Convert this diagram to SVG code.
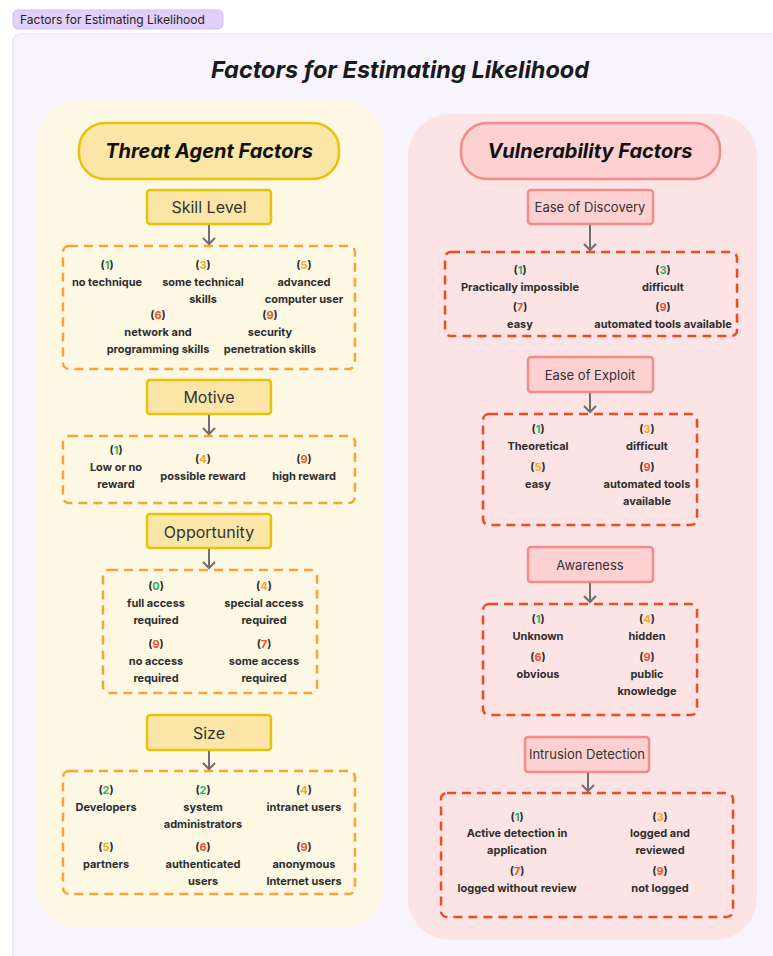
<svg xmlns="http://www.w3.org/2000/svg" width="773" height="956" viewBox="0 0 773 956">
<style>
text{font-family:Inter,"Noto Sans","Liberation Sans",sans-serif;}
.tag{font-size:12px;fill:#222;}
.title{font-size:23.5px;font-weight:700;font-style:italic;fill:#1a1a1a;}
.ph{font-size:20px;font-weight:700;font-style:italic;fill:#111;}
.yl{fill:#fbe6a8;stroke:#e6c20a;stroke-width:2.5;}
.rd{fill:#fdd1d1;stroke:#f48b8b;stroke-width:2.5;}
.lab{font-size:16px;fill:#333;}
.labs{font-size:13px;fill:#333;}
.it{font-size:11px;font-weight:700;fill:#2e2e2e;text-anchor:middle;dominant-baseline:central;}
.dy{fill:none;stroke:#f9a23a;stroke-width:2.5;stroke-dasharray:9 6;}
.dr{fill:none;stroke:#ee4b22;stroke-width:2.5;stroke-dasharray:9 6;}
.g{fill:#2db55d;}.o{fill:#f6a723;}.r{fill:#f0512a;}
.arr{fill:none;stroke:#6f6f6f;stroke-width:2;}
</style>
<rect width="773" height="956" fill="#ffffff"/>
<rect x="13" y="10" width="210" height="19" rx="5" fill="#e2cffa" stroke="#d4bdf3" stroke-width="1"/>
<text class="tag" x="20" y="24">Factors for Estimating Likelihood</text>
<rect x="13" y="34" width="780" height="940" rx="8" fill="#f8f4fe" stroke="#ece4f8" stroke-width="1.5"/>
<text class="title" x="400" y="78" text-anchor="middle">Factors for Estimating Likelihood</text>

<g id="threat-panel">
<rect x="36" y="100" width="348" height="828" rx="42" fill="#fdf8e4"/>
<rect x="79" y="123" width="260" height="56" rx="26" class="yl" stroke-width="3"/>
<text class="ph" x="209" y="158" text-anchor="middle">Threat Agent Factors</text>
</g>

<g id="vuln-panel">
<rect x="408" y="114" width="349" height="826" rx="42" fill="#fde4e4"/>
<rect x="461" y="123" width="259" height="56" rx="26" class="rd" stroke-width="3"/>
<text class="ph" x="590" y="158" text-anchor="middle">Vulnerability Factors</text>
</g>

<g id="skill-level">
<rect x="147" y="190" width="124" height="34" rx="3" class="yl"/>
<text class="lab" x="209" y="213" text-anchor="middle">Skill Level</text>
</g>
<g id="skill-options">
<rect x="63" y="246" width="292" height="123" rx="6" class="dy"/>
<text class="it" x="107" y="265">(<tspan class="g">1</tspan>)</text>
<text class="it" x="107" y="282">no technique</text>
<text class="it" x="203" y="265">(<tspan class="o">3</tspan>)</text>
<text class="it" x="203" y="282">some technical</text>
<text class="it" x="203" y="299">skills</text>
<text class="it" x="304" y="265">(<tspan class="o">5</tspan>)</text>
<text class="it" x="304" y="282">advanced</text>
<text class="it" x="304" y="299">computer user</text>
<text class="it" x="158" y="315">(<tspan class="r">6</tspan>)</text>
<text class="it" x="158" y="332">network and</text>
<text class="it" x="158" y="349">programming skills</text>
<text class="it" x="270" y="315">(<tspan class="r">9</tspan>)</text>
<text class="it" x="270" y="332">security</text>
<text class="it" x="270" y="349">penetration skills</text>
</g>

<g id="motive">
<rect x="147" y="380" width="124" height="34" rx="3" class="yl"/>
<text class="lab" x="209" y="403" text-anchor="middle">Motive</text>
</g>
<g id="motive-options">
<rect x="63" y="436" width="292" height="67" rx="6" class="dy"/>
<text class="it" x="116" y="450">(<tspan class="g">1</tspan>)</text>
<text class="it" x="116" y="467">Low or no</text>
<text class="it" x="116" y="484">reward</text>
<text class="it" x="203" y="459">(<tspan class="o">4</tspan>)</text>
<text class="it" x="203" y="476">possible reward</text>
<text class="it" x="304" y="459">(<tspan class="r">9</tspan>)</text>
<text class="it" x="304" y="476">high reward</text>
</g>

<g id="opportunity">
<rect x="147" y="514" width="124" height="34" rx="3" class="yl"/>
<text class="lab" x="209" y="538" text-anchor="middle">Opportunity</text>
</g>
<g id="opportunity-options">
<rect x="103" y="570" width="214" height="123" rx="6" class="dy"/>
<text class="it" x="156" y="586">(<tspan class="g">0</tspan>)</text>
<text class="it" x="156" y="603">full access</text>
<text class="it" x="156" y="620">required</text>
<text class="it" x="264" y="586">(<tspan class="o">4</tspan>)</text>
<text class="it" x="264" y="603">special access</text>
<text class="it" x="264" y="620">required</text>
<text class="it" x="156" y="644">(<tspan class="r">9</tspan>)</text>
<text class="it" x="156" y="661">no access</text>
<text class="it" x="156" y="678">required</text>
<text class="it" x="264" y="644">(<tspan class="r">7</tspan>)</text>
<text class="it" x="264" y="661">some access</text>
<text class="it" x="264" y="678">required</text>
</g>

<g id="size">
<rect x="147" y="715" width="124" height="35" rx="3" class="yl"/>
<text class="lab" x="209" y="739" text-anchor="middle">Size</text>
</g>
<g id="size-options">
<rect x="63" y="771" width="292" height="123" rx="6" class="dy"/>
<text class="it" x="106" y="790">(<tspan class="g">2</tspan>)</text>
<text class="it" x="106" y="807">Developers</text>
<text class="it" x="203" y="790">(<tspan class="g">2</tspan>)</text>
<text class="it" x="203" y="807">system</text>
<text class="it" x="203" y="824">administrators</text>
<text class="it" x="304" y="790">(<tspan class="o">4</tspan>)</text>
<text class="it" x="304" y="807">intranet users</text>
<text class="it" x="106" y="847">(<tspan class="o">5</tspan>)</text>
<text class="it" x="106" y="864">partners</text>
<text class="it" x="203" y="847">(<tspan class="r">6</tspan>)</text>
<text class="it" x="203" y="864">authenticated</text>
<text class="it" x="203" y="881">users</text>
<text class="it" x="304" y="847">(<tspan class="r">9</tspan>)</text>
<text class="it" x="304" y="864">anonymous</text>
<text class="it" x="304" y="881">Internet users</text>
</g>

<g id="ease-of-discovery">
<rect x="528" y="190" width="125" height="34" rx="3" class="rd"/>
<text class="labs" x="590" y="212" text-anchor="middle">Ease of Discovery</text>
</g>
<g id="discovery-options">
<rect x="445" y="252" width="292" height="84" rx="6" class="dr"/>
<text class="it" x="520" y="270">(<tspan class="g">1</tspan>)</text>
<text class="it" x="520" y="287">Practically impossible</text>
<text class="it" x="663" y="270">(<tspan class="g">3</tspan>)</text>
<text class="it" x="663" y="287">difficult</text>
<text class="it" x="520" y="307">(<tspan class="r">7</tspan>)</text>
<text class="it" x="520" y="324">easy</text>
<text class="it" x="663" y="307">(<tspan class="r">9</tspan>)</text>
<text class="it" x="663" y="324">automated tools available</text>
</g>

<g id="ease-of-exploit">
<rect x="528" y="357" width="125" height="35" rx="3" class="rd"/>
<text class="labs" x="590" y="380" text-anchor="middle" font-size="14">Ease of Exploit</text>
</g>
<g id="exploit-options">
<rect x="483" y="414" width="214" height="111" rx="6" class="dr"/>
<text class="it" x="538" y="429">(<tspan class="g">1</tspan>)</text>
<text class="it" x="538" y="446">Theoretical</text>
<text class="it" x="647" y="429">(<tspan class="o">3</tspan>)</text>
<text class="it" x="647" y="446">difficult</text>
<text class="it" x="538" y="467">(<tspan class="o">5</tspan>)</text>
<text class="it" x="538" y="484">easy</text>
<text class="it" x="647" y="467">(<tspan class="r">9</tspan>)</text>
<text class="it" x="647" y="484">automated tools</text>
<text class="it" x="647" y="501">available</text>
</g>

<g id="awareness">
<rect x="528" y="547" width="125" height="35" rx="3" class="rd"/>
<text class="labs" x="590" y="570" text-anchor="middle" font-size="15">Awareness</text>
</g>
<g id="awareness-options">
<rect x="483" y="604" width="214" height="111" rx="6" class="dr"/>
<text class="it" x="538" y="619">(<tspan class="g">1</tspan>)</text>
<text class="it" x="538" y="636">Unknown</text>
<text class="it" x="647" y="619">(<tspan class="o">4</tspan>)</text>
<text class="it" x="647" y="636">hidden</text>
<text class="it" x="538" y="657">(<tspan class="r">6</tspan>)</text>
<text class="it" x="538" y="674">obvious</text>
<text class="it" x="647" y="657">(<tspan class="r">9</tspan>)</text>
<text class="it" x="647" y="674">public</text>
<text class="it" x="647" y="691">knowledge</text>
</g>

<g id="intrusion-detection">
<rect x="525" y="737" width="124" height="35" rx="3" class="rd"/>
<text class="labs" x="587" y="759" text-anchor="middle">Intrusion Detection</text>
</g>
<g id="intrusion-options">
<rect x="441" y="793" width="292" height="124" rx="6" class="dr"/>
<text class="it" x="517" y="817">(<tspan class="g">1</tspan>)</text>
<text class="it" x="517" y="833">Active detection in</text>
<text class="it" x="517" y="850">application</text>
<text class="it" x="660" y="817">(<tspan class="o">3</tspan>)</text>
<text class="it" x="660" y="833">logged and</text>
<text class="it" x="660" y="850">reviewed</text>
<text class="it" x="517" y="871">(<tspan class="r">7</tspan>)</text>
<text class="it" x="517" y="888">logged without review</text>
<text class="it" x="660" y="871">(<tspan class="r">9</tspan>)</text>
<text class="it" x="660" y="888">not logged</text>
</g>

<g id="connectors" class="arr">
<path d="M209 225V244M203 238L209 244L215 238"/>
<path d="M209 415V434M203 428L209 434L215 428"/>
<path d="M209 549V568M203 562L209 568L215 562"/>
<path d="M209 751V769M203 763L209 769L215 763"/>
<path d="M590 225V250M584 244L590 250L596 244"/>
<path d="M590 393V412M584 406L590 412L596 406"/>
<path d="M590 583V602M584 596L590 602L596 596"/>
<path d="M588 773V791M582 785L588 791L594 785"/>
</g>
</svg>
